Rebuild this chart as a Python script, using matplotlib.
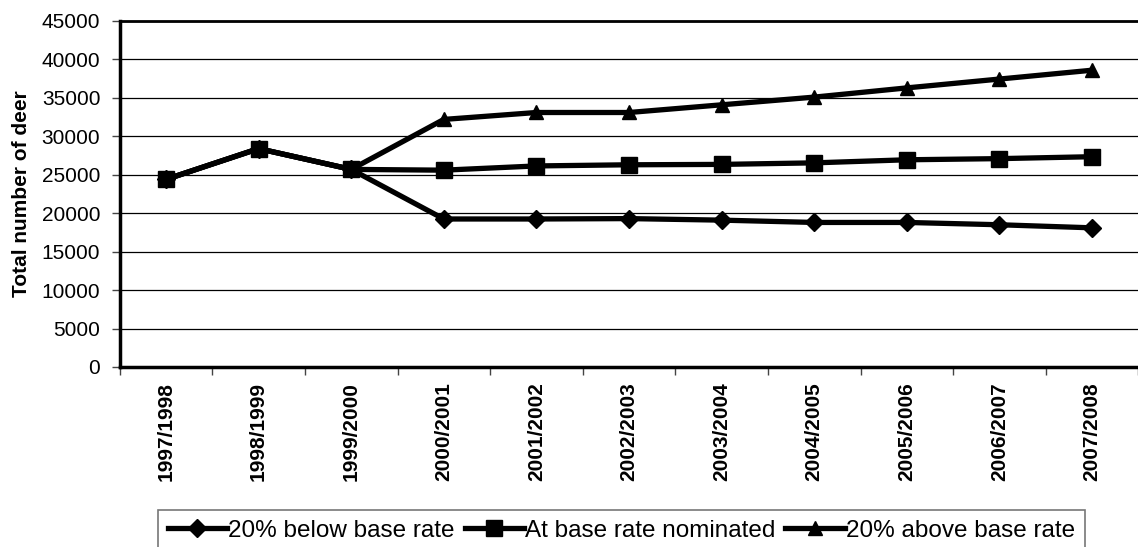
import numpy as np
import matplotlib.pyplot as plt
from matplotlib.ticker import FixedLocator

plt.rcParams['font.family'] = ['Liberation Sans', 'DejaVu Sans']

seasons = ['1997/1998', '1998/1999', '1999/2000', '2000/2001', '2001/2002', '2002/2003',
           '2003/2004', '2004/2005', '2005/2006', '2006/2007', '2007/2008']
below_base = [24400, 28400, 25700, 19250, 19250, 19300, 19100, 18800, 18800, 18500, 18100]
at_base = [24400, 28400, 25700, 25600, 26150, 26300, 26350, 26550, 26950, 27100, 27350]
above_base = [24400, 28400, 25700, 32200, 33100, 33100, 34100, 35100, 36300, 37450, 38600]

fig = plt.figure(figsize=(11.38, 5.47), dpi=100)
ax = fig.add_axes([119.7 / 1138, 1 - 367 / 547, 1018.6 / 1138, 346 / 547])

x = np.arange(len(seasons))

ax.plot(x, below_base, color='black', lw=3.8, marker='D', ms=9, zorder=3,
        label='20% below base rate')
ax.plot(x, at_base, color='black', lw=3.8, marker='s', ms=11, zorder=5,
        label='At base rate nominated')
ax.plot(x, above_base, color='black', lw=3.8, marker='^', ms=10, zorder=4,
        label='20% above base rate')

ax.set_xlim(-0.5, len(seasons) - 0.5)
ax.set_ylim(0, 45000)
ax.set_yticks(np.arange(0, 45001, 5000))
ax.set_xticks(x)
ax.set_xticklabels(seasons, rotation=90, weight='bold', fontsize=15)
ax.xaxis.set_minor_locator(FixedLocator(np.arange(-0.5, len(seasons), 1)))
ax.tick_params(axis='x', which='major', length=0, pad=11)
ax.tick_params(axis='x', which='minor', length=6, width=1, direction='out', color='#444')
ax.tick_params(axis='y', length=6, width=1, direction='out', labelsize=15, pad=8, color='#444')

ax.set_ylabel('Total number of deer', fontsize=15, weight='bold', labelpad=8)

ax.yaxis.grid(True, color='black', lw=0.9)
ax.set_axisbelow(True)

ax.spines['left'].set_linewidth(2.5)
ax.spines['bottom'].set_linewidth(2.5)
ax.spines['top'].set_linewidth(2)
ax.spines['right'].set_visible(False)

leg = fig.legend(loc='upper center', bbox_to_anchor=(621.5 / 1138, 1 - 510 / 547),
                 ncol=3, fontsize=17.5, frameon=True, fancybox=False,
                 edgecolor='#555555', handlelength=2.45, handletextpad=0.05,
                 columnspacing=0.4, borderpad=0.4, borderaxespad=0)
leg.get_frame().set_linewidth(1.2)

fig.savefig('out.png', dpi=100)
